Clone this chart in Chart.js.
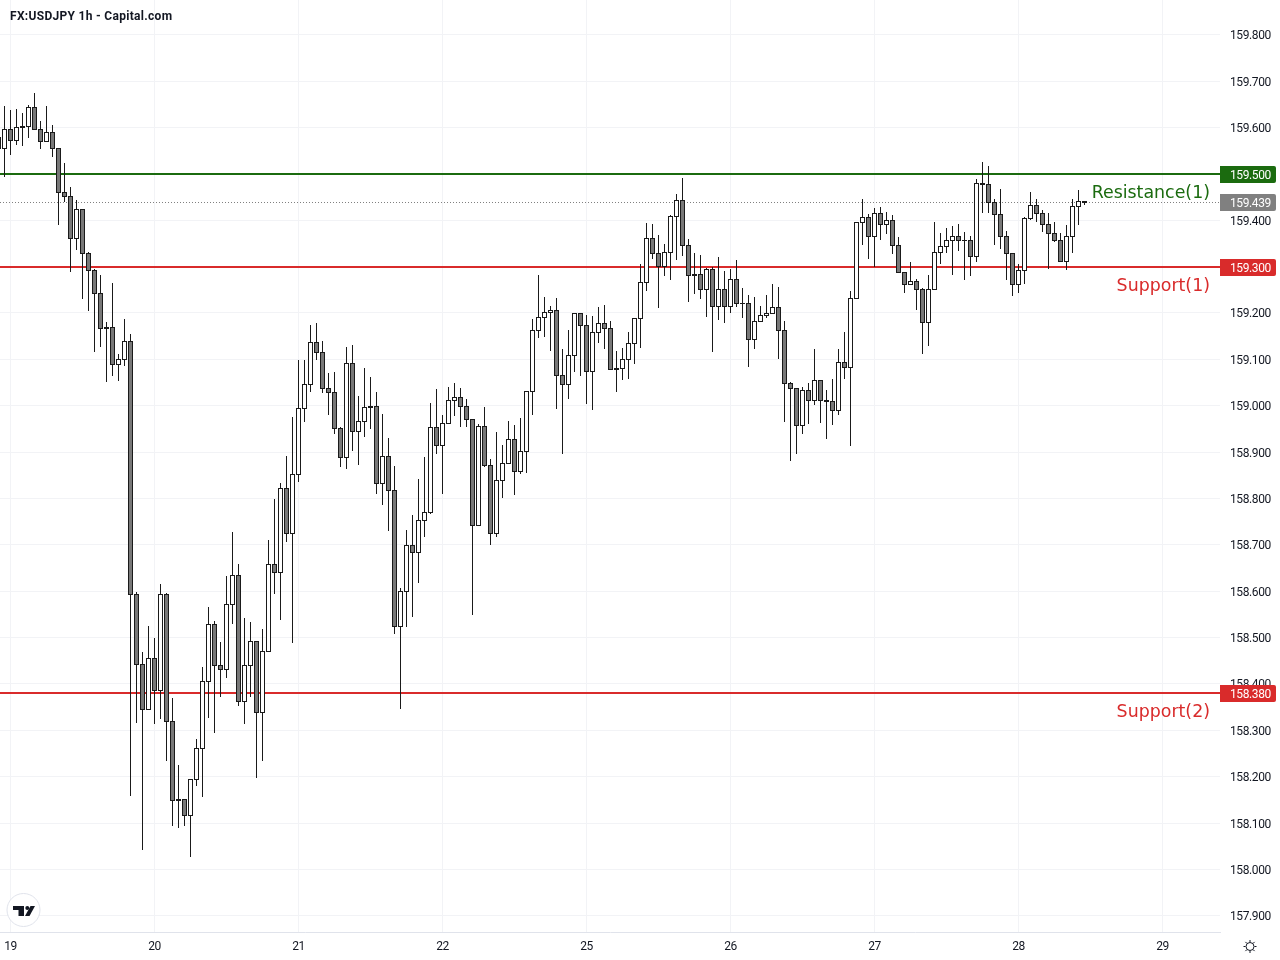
<!DOCTYPE html>
<html>
<head>
<meta charset="utf-8">
<title>FX:USDJPY 1h</title>
<style>
  html, body { margin: 0; padding: 0; background: #fff; }
  canvas { display: block; }
</style>
<script src="https://cdn.jsdelivr.net/npm/chart.js@4"></script>
</head>
<body>
<canvas id="grafico" width="1280" height="960"></canvas>
<script>
// first candle sits two hours before the "19" tick
const firstHour = -2;

const opens = [
  159.578,159.555,159.596,159.572,159.602,159.602,159.643,159.596,159.570,159.589,
  159.555,159.460,159.451,159.361,159.423,159.328,159.292,159.242,159.169,159.169,
  159.089,159.100,159.138,158.593,158.442,158.345,158.455,158.386,158.593,158.319,
  158.151,158.151,158.116,158.194,158.261,158.405,158.528,158.440,158.431,158.571,
  158.634,158.362,158.440,158.491,158.338,158.470,158.657,158.640,158.821,158.724,
  158.852,158.994,159.046,159.136,159.115,159.037,159.029,158.951,158.888,159.091,
  158.944,158.966,158.998,158.998,158.832,158.890,158.817,158.524,158.599,158.698,
  158.683,158.752,158.770,158.953,158.914,158.962,159.011,159.018,158.998,158.970,
  158.742,158.955,158.871,158.724,158.839,158.875,158.927,158.858,158.901,159.031,
  159.162,159.190,159.201,159.205,159.065,159.046,159.108,159.199,159.173,159.074,
  159.158,159.177,159.167,159.080,159.080,159.100,159.134,159.188,159.266,159.361,
  159.328,159.300,159.330,159.408,159.443,159.345,159.283,159.283,159.251,159.294,
  159.214,159.251,159.214,159.272,159.221,159.220,159.143,159.182,159.195,159.199,
  159.212,159.162,159.048,159.037,158.957,159.033,159.011,159.054,159.011,159.009,
  158.990,159.093,159.082,159.231,159.395,159.406,159.365,159.414,159.391,159.399,
  159.345,159.287,159.261,159.268,159.251,159.179,159.251,159.330,159.343,159.356,
  159.365,159.357,159.356,159.322,159.479,159.477,159.438,159.412,159.365,159.328,
  159.261,159.292,159.404,159.432,159.414,159.391,159.371,159.356,159.311,159.365,
  159.430,159.440
];
const highs = [
  159.594,159.645,159.637,159.639,159.630,159.647,159.673,159.613,159.645,159.604,
  159.555,159.522,159.471,159.443,159.423,159.330,159.294,159.281,159.179,159.264,
  159.110,159.186,159.154,158.597,158.468,158.524,158.498,158.614,158.595,158.369,
  158.224,158.151,158.194,158.280,158.435,158.565,158.535,158.489,158.632,158.727,
  158.657,158.541,158.532,158.491,158.517,158.709,158.798,158.832,158.890,158.975,
  159.098,159.098,159.173,159.177,159.138,159.069,159.072,158.953,159.125,159.130,
  159.020,159.080,159.061,159.029,158.981,158.929,158.869,158.606,158.731,158.763,
  158.841,158.888,159.005,159.035,158.979,159.039,159.048,159.037,159.013,158.970,
  158.959,158.996,158.884,158.942,158.914,158.966,158.957,158.972,159.031,159.186,
  159.281,159.233,159.214,159.231,159.121,159.162,159.199,159.199,159.195,159.192,
  159.212,159.216,159.182,159.117,159.123,159.158,159.188,159.304,159.393,159.391,
  159.367,159.348,159.410,159.455,159.490,159.358,159.328,159.324,159.296,159.298,
  159.320,159.290,159.294,159.313,159.253,159.238,159.233,159.214,159.238,159.261,
  159.255,159.182,159.050,159.037,159.039,159.048,159.121,159.054,159.033,159.056,
  159.121,159.158,159.246,159.395,159.445,159.412,159.425,159.427,159.417,159.410,
  159.363,159.287,159.309,159.272,159.253,159.281,159.395,159.371,159.382,159.386,
  159.391,159.374,159.365,159.488,159.524,159.516,159.445,159.466,159.376,159.328,
  159.304,159.406,159.460,159.445,159.421,159.414,159.395,159.371,159.388,159.445,
  159.464,159.440
];
const lows = [
  159.550,159.494,159.542,159.563,159.561,159.578,159.596,159.555,159.570,159.537,
  159.391,159.440,159.290,159.337,159.231,159.205,159.117,159.128,159.052,159.065,
  159.054,159.087,158.159,158.317,158.043,158.345,158.315,158.325,158.235,158.095,
  158.090,158.095,158.028,158.181,158.157,158.328,158.295,158.373,158.414,158.530,
  158.353,158.315,158.373,158.198,158.235,158.470,158.595,158.539,158.707,158.489,
  158.837,158.966,159.031,159.100,159.029,158.981,158.940,158.869,158.865,158.903,
  158.873,158.934,158.951,158.811,158.787,158.731,158.509,158.347,158.524,158.545,
  158.619,158.718,158.768,158.897,158.811,158.962,158.979,158.955,158.955,158.550,
  158.742,158.869,158.701,158.718,158.802,158.875,158.809,158.854,158.856,158.981,
  159.147,159.149,159.119,158.994,158.897,159.016,159.074,159.065,159.005,158.992,
  159.136,159.123,159.078,159.031,159.056,159.059,159.091,159.125,159.248,159.317,
  159.212,159.281,159.272,159.315,159.324,159.225,159.242,159.231,159.192,159.117,
  159.186,159.179,159.201,159.214,159.190,159.085,159.123,159.182,159.190,159.199,
  159.102,158.966,158.882,158.897,158.940,158.962,159.003,158.964,158.929,158.959,
  158.981,159.059,158.914,159.231,159.348,159.317,159.300,159.358,159.371,159.328,
  159.287,159.244,159.261,159.207,159.113,159.130,159.251,159.307,159.330,159.283,
  159.335,159.272,159.281,159.311,159.417,159.417,159.348,159.339,159.272,159.238,
  159.244,159.263,159.402,159.397,159.376,159.296,159.354,159.311,159.294,159.330,
  159.391,159.434
];
const closes = [
  159.555,159.596,159.572,159.600,159.600,159.643,159.596,159.570,159.589,159.555,
  159.460,159.451,159.361,159.423,159.328,159.292,159.242,159.167,159.167,159.089,
  159.100,159.138,158.593,158.442,158.345,158.455,158.386,158.593,158.319,158.149,
  158.149,158.116,158.194,158.261,158.405,158.528,158.440,158.431,158.571,158.634,
  158.362,158.440,158.491,158.338,158.470,158.657,158.640,158.821,158.724,158.852,
  158.994,159.046,159.136,159.115,159.037,159.029,158.951,158.888,159.091,158.944,
  158.966,158.996,158.996,158.832,158.890,158.817,158.524,158.599,158.698,158.683,
  158.752,158.770,158.953,158.914,158.962,159.011,159.018,158.998,158.970,158.742,
  158.955,158.871,158.724,158.839,158.875,158.927,158.858,158.901,159.031,159.162,
  159.190,159.201,159.205,159.065,159.046,159.108,159.199,159.173,159.074,159.158,
  159.177,159.167,159.078,159.078,159.100,159.134,159.188,159.266,159.361,159.328,
  159.300,159.330,159.408,159.443,159.345,159.281,159.281,159.251,159.294,159.214,
  159.251,159.214,159.272,159.220,159.220,159.143,159.182,159.195,159.199,159.212,
  159.162,159.048,159.037,158.957,159.033,159.011,159.054,159.011,159.009,158.990,
  159.093,159.082,159.231,159.395,159.406,159.365,159.414,159.391,159.399,159.345,
  159.287,159.261,159.268,159.251,159.179,159.251,159.330,159.343,159.356,159.365,
  159.356,159.356,159.322,159.479,159.477,159.438,159.412,159.365,159.328,159.261,
  159.292,159.404,159.432,159.414,159.391,159.371,159.356,159.311,159.365,159.430,
  159.440,159.439
];

const priceTicks = [
  157.9,158.0,158.1,158.2,158.3,158.4,158.5,158.6,158.7,158.8,
  158.9,159.0,159.1,159.2,159.3,159.4,159.5,159.6,159.7,159.8
];
const dayTicks = [0,24,48,72,96,120,144,168,192];
const dayLabels = ["19","20","21","22","25","26","27","28","29"];

const levels = [159.5,159.3,158.38];
const levelNames = ["Resistance(1)","Support(1)","Support(2)"];
const levelColors = ["#1b6b0f","#d92b2b","#d92b2b"];
const lastPrice = 159.439;

const title = "FX:USDJPY 1h - Capital.com";
const fontTicks = '12px Roboto';
const textColor = "#131722";
const candleLine = "#1a1a1a";

const hours = opens.map((_, i) => firstHour + i);

// keeps bodies and wicks on whole pixels so they stay crisp
const snapPixels = {
  id: "snapPixels",
  afterDatasetsUpdate(chart) {
    chart.data.datasets.forEach((ds, i) => {
      const els = chart.getDatasetMeta(i).data;
      if (ds.type === "line") {
        els.forEach(p => { p.y = Math.round(p.y) + (ds.borderWidth % 2 ? 0.5 : 0); });
      } else {
        els.forEach(b => {
          const top = Math.floor(Math.min(b.y, b.base));
          const bottom = Math.floor(Math.max(b.y, b.base)) + 1;
          b.y = top;
          b.base = bottom;
          b.height = bottom - top;
        });
      }
    });
  }
};

function desenhaTag(ctx, y, color, text) {
  ctx.fillStyle = color;
  ctx.beginPath();
  ctx.roundRect(1220, y - 8, 56, 17, [0, 2, 2, 0]);
  ctx.fill();
  ctx.fillStyle = "#ffffff";
  ctx.font = fontTicks;
  ctx.letterSpacing = "-0.4px";
  ctx.textAlign = "left";
  ctx.textBaseline = "middle";
  ctx.fillText(text, 1230, y + 1.5);
}

function desenhaLogo(ctx) {
  ctx.fillStyle = "#ffffff";
  ctx.strokeStyle = "#e0e3eb";
  ctx.lineWidth = 1;
  ctx.beginPath();
  ctx.arc(23.5, 910, 16.5, 0, Math.PI * 2);
  ctx.fill();
  ctx.stroke();
  ctx.fillStyle = textColor;
  ctx.fill(new Path2D("M13 906 H24 V916 H18.5 V910 H13 Z"));
  ctx.fill(new Path2D("M30.5 906 H35 L29.5 916 H25 Z"));
  ctx.beginPath();
  ctx.arc(27.3, 908, 2, 0, Math.PI * 2);
  ctx.fill();
}

function desenhaEngrenagem(ctx) {
  const cx = 1250, cy = 946.5;
  ctx.strokeStyle = textColor;
  ctx.lineWidth = 1;
  ctx.beginPath();
  ctx.arc(cx, cy, 4, 0, Math.PI * 2);
  for (let a = 0; a < 8; a++) {
    const ang = a * Math.PI / 4;
    ctx.moveTo(cx + Math.cos(ang) * 4.5, cy + Math.sin(ang) * 4.5);
    ctx.lineTo(cx + Math.cos(ang) * 6.5, cy + Math.sin(ang) * 6.5);
  }
  ctx.stroke();
}

const overlay = {
  id: "overlay",
  // tick labels are a bit narrower in the reference
  beforeDraw(chart) {
    chart.ctx.letterSpacing = "-0.4px";
  },
  afterDraw(chart) {
    const ctx = chart.ctx;
    const yScale = chart.scales.y;
    ctx.save();

    ctx.fillStyle = textColor;
    ctx.font = 'bold 12px Roboto';
    ctx.letterSpacing = "0.3px";
    ctx.textAlign = "left";
    ctx.textBaseline = "middle";
    ctx.fillText(title, 10, 16.5);

    desenhaLogo(ctx);
    desenhaEngrenagem(ctx);

    desenhaTag(ctx, Math.round(yScale.getPixelForValue(lastPrice)), "#808080", lastPrice.toFixed(3));
    levels.forEach((lv, i) => {
      const y = Math.round(yScale.getPixelForValue(lv));
      desenhaTag(ctx, y, levelColors[i], lv.toFixed(3));
      ctx.fillStyle = levelColors[i];
      ctx.font = '17.4px "DejaVu Sans"';
      ctx.letterSpacing = "0px";
      ctx.textAlign = "right";
      ctx.textBaseline = "middle";
      ctx.fillText(levelNames[i], 1210, y + 19);
    });
    ctx.restore();
  }
};

const xMin = -1.75, xMax = 201.583;

function linhaNivel(value, color, width, dash) {
  return {
    type: "line",
    data: [{ x: xMin, y: value }, { x: xMax, y: value }],
    borderColor: color,
    borderWidth: width,
    borderDash: dash,
    pointRadius: 0,
    order: 3
  };
}

new Chart(document.getElementById("grafico").getContext("2d"), {
  data: {
    datasets: [
      {
        type: "bar",
        data: hours.map((h, i) => ({ x: h, y: [opens[i], closes[i]] })),
        backgroundColor: opens.map((o, i) => closes[i] > o ? "#ffffff" : "#787878"),
        borderColor: candleLine,
        borderWidth: 1,
        borderSkipped: false,
        inflateAmount: 0,
        barThickness: 5,
        grouped: false,
        order: 1
      },
      {
        type: "bar",
        data: hours.map((h, i) => ({ x: h, y: [lows[i], highs[i]] })),
        backgroundColor: candleLine,
        borderWidth: 0,
        inflateAmount: 0,
        barThickness: 1,
        grouped: false,
        order: 2
      },
      ...levels.map((lv, i) => linhaNivel(lv, levelColors[i], 2, [])),
      linhaNivel(lastPrice, "#808080", 1, [1, 2])
    ]
  },
  options: {
    responsive: false,
    animation: false,
    devicePixelRatio: 1,
    layout: { padding: 0 },
    plugins: { legend: { display: false }, tooltip: { enabled: false }, title: { display: false } },
    scales: {
      x: {
        type: "linear",
        offset: false,
        min: xMin,
        max: xMax,
        afterBuildTicks: s => { s.ticks = dayTicks.map(v => ({ value: v })); },
        afterFit: s => { s.height = 28; s.paddingLeft = 0; s.paddingRight = 0; },
        border: { color: "#e0e3eb" },
        grid: { color: "#f2f3f6", drawTicks: false, offset: false },
        ticks: {
          autoSkip: false,
          maxRotation: 0,
          padding: 8,
          color: textColor,
          font: { family: "Roboto", size: 12 },
          callback: v => dayLabels[dayTicks.indexOf(v)]
        }
      },
      y: {
        position: "right",
        min: 157.865,
        max: 159.875,
        afterBuildTicks: s => { s.ticks = priceTicks.map(v => ({ value: v })); },
        afterFit: s => { s.width = 60; s.paddingTop = 0; s.paddingBottom = 0; },
        border: { display: false },
        grid: { color: "#f2f3f6", drawTicks: false },
        ticks: {
          autoSkip: false,
          padding: 10,
          labelOffset: 1.5,
          color: textColor,
          font: { family: "Roboto", size: 12 },
          callback: v => v.toFixed(3)
        }
      }
    }
  },
  plugins: [snapPixels, overlay]
});
</script>
</body>
</html>
